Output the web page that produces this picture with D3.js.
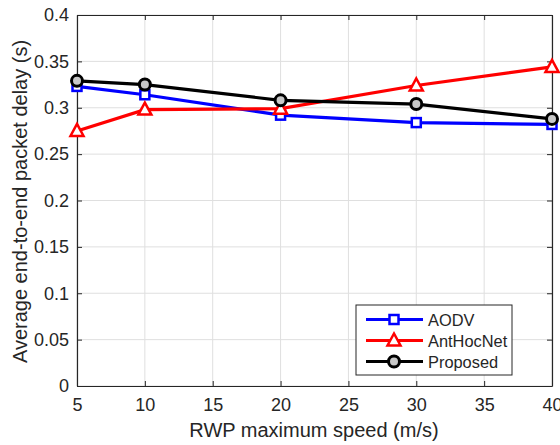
<!DOCTYPE html>
<html><head><meta charset="utf-8">
<script src="https://cdn.jsdelivr.net/npm/d3@7"></script>
<style>body{margin:0;background:#fff;} text{font-family:"Liberation Sans",Arial,sans-serif;fill:#262626;}</style>
</head><body><svg id="c" width="560" height="445"></svg>
<script>
const speeds = [5, 10, 20, 30, 40];
const aodv = [0.323, 0.314, 0.292, 0.284, 0.282];
const antHocNet = [0.275, 0.298, 0.299, 0.324, 0.344];
const proposed = [0.329, 0.325, 0.308, 0.304, 0.288];
const xTicks = [5, 10, 15, 20, 25, 30, 35, 40];
const yTicks = [0, 0.05, 0.1, 0.15, 0.2, 0.25, 0.3, 0.35, 0.4];
const seriesNames = ["AODV", "AntHocNet", "Proposed"];
const seriesColors = ["#0000ff", "#ff0000", "#000000"];
const seriesMarkers = ["square", "triangle", "circle"];

const svg = d3.select("#c");
const L = 77, R = 552, T = 15, B = 386;
const x = d3.scaleLinear().domain([5, 40]).range([L, R]);
const y = d3.scaleLinear().domain([0, 0.4]).range([B, T]);
const fmt = d => (d === 0 ? "0" : String(+d.toFixed(2)));

// grid
const g = svg.append("g");
g.selectAll(".gx").data(xTicks).enter().append("line")
  .attr("x1", d => x(d)).attr("x2", d => x(d)).attr("y1", T).attr("y2", B)
  .attr("stroke", "#dfdfdf").attr("stroke-width", 1);
g.selectAll(".gy").data(yTicks).enter().append("line")
  .attr("y1", d => y(d)).attr("y2", d => y(d)).attr("x1", L).attr("x2", R)
  .attr("stroke", "#dfdfdf").attr("stroke-width", 1);

// axes
const ax = svg.append("g").attr("transform", `translate(0,${B})`)
  .call(d3.axisBottom(x).tickValues(xTicks).tickSizeInner(-5).tickSizeOuter(0).tickPadding(12).tickFormat(d => d));
const ay = svg.append("g").attr("transform", `translate(${L},0)`)
  .call(d3.axisLeft(y).tickValues(yTicks).tickSizeInner(-5).tickSizeOuter(0).tickPadding(8).tickFormat(fmt));
const axT = svg.append("g").attr("transform", `translate(0,${T})`)
  .call(d3.axisTop(x).tickValues(xTicks).tickSizeInner(-5).tickSizeOuter(0).tickFormat(""));
const ayR = svg.append("g").attr("transform", `translate(${R},0)`)
  .call(d3.axisRight(y).tickValues(yTicks).tickSizeInner(-5).tickSizeOuter(0).tickFormat(""));
[ax, ay, axT, ayR].forEach(a => {
  a.selectAll("path").attr("stroke", "#262626").attr("stroke-width", 1.2);
  a.selectAll("line").attr("stroke", "#262626");
  a.selectAll("text").style("font-size", "18px").attr("fill", "#262626")
    .style("font-family", "'Liberation Sans',Arial,sans-serif");
});

function marker(sel, type, color) {
  if (type === "square") {
    sel.append("rect").attr("x", -4.5).attr("y", -4.5).attr("width", 9).attr("height", 9)
      .attr("fill", "#fff").attr("stroke", color).attr("stroke-width", 2.5);
  } else if (type === "triangle") {
    sel.append("path").attr("d", "M0,-7 L6.5,5 L-6.5,5 Z")
      .attr("fill", "#fff").attr("stroke", color).attr("stroke-width", 2.5);
  } else {
    sel.append("circle").attr("r", 5.5).attr("fill", "#c8c8c8")
      .attr("stroke", color).attr("stroke-width", 3);
  }
}

const allSeries = [aodv, antHocNet, proposed];
const line = d3.line().x((d, i) => x(speeds[i])).y(d => y(d));
allSeries.forEach((vals, k) => {
  svg.append("path").datum(vals).attr("d", line).attr("fill", "none")
    .attr("stroke", seriesColors[k]).attr("stroke-width", 3.2);
  vals.forEach((v, i) => {
    const m = svg.append("g").attr("transform", `translate(${x(speeds[i])},${y(v)})`);
    marker(m, seriesMarkers[k], seriesColors[k]);
  });
});

// legend
const lg = svg.append("g");
lg.append("rect").attr("x", 356).attr("y", 305).attr("width", 156).attr("height", 70)
  .attr("fill", "#fff").attr("stroke", "#262626").attr("stroke-width", 1);
seriesNames.forEach((n, k) => {
  const yy = 319.5 + k * 21;
  lg.append("line").attr("x1", 366).attr("x2", 423).attr("y1", yy).attr("y2", yy)
    .attr("stroke", seriesColors[k]).attr("stroke-width", 3.2);
  const m = lg.append("g").attr("transform", `translate(394,${yy})`);
  marker(m, seriesMarkers[k], seriesColors[k]);
  lg.append("text").attr("x", 428).attr("y", yy + 6).style("font-size", "16.4px").text(n);
});

// axis labels
svg.append("text").attr("x", 314).attr("y", 437).attr("text-anchor", "middle")
  .style("font-size", "20px").text("RWP maximum speed (m/s)");
svg.append("text").attr("transform", `translate(27,201.5) rotate(-90)`)
  .attr("text-anchor", "middle").style("font-size", "20px").text("Average end-to-end packet delay (s)");
</script></body></html>
